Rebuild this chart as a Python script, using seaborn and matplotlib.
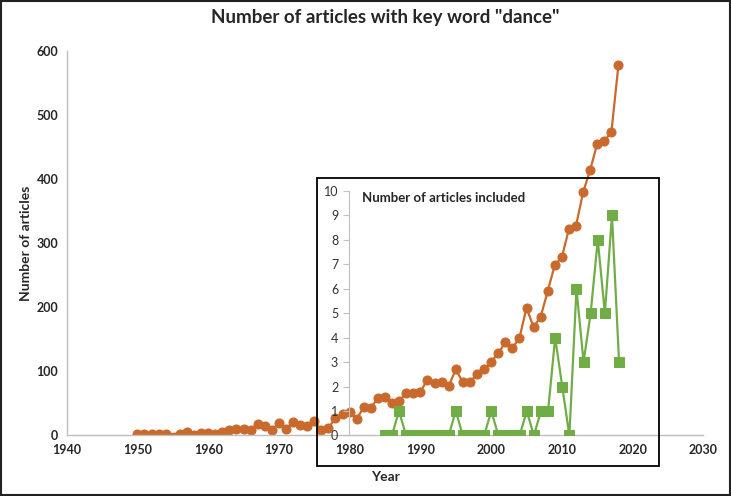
import numpy as np
import pandas as pd
import matplotlib
matplotlib.use('Agg')
import matplotlib.pyplot as plt
import seaborn as sns
from matplotlib.patches import Rectangle

# all articles with key word "dance" (1955 missing in source)
years_all = [1950, 1951, 1952, 1953, 1954, 1956, 1957, 1958, 1959, 1960,
             1961, 1962, 1963, 1964, 1965, 1966, 1967, 1968, 1969, 1970,
             1971, 1972, 1973, 1974, 1975, 1976, 1977, 1978, 1979, 1980,
             1981, 1982, 1983, 1984, 1985, 1986, 1987, 1988, 1989, 1990,
             1991, 1992, 1993, 1994, 1995, 1996, 1997, 1998, 1999, 2000,
             2001, 2002, 2003, 2004, 2005, 2006, 2007, 2008, 2009, 2010,
             2011, 2012, 2013, 2014, 2015, 2016, 2017, 2018]
articles_all = [3, 2, 3, 3, 2, 3, 5, 1, 4, 4,
                3, 6, 9, 10, 10, 8, 18, 15, 8, 20,
                10, 21, 17, 15, 22, 9, 12, 27, 34, 36,
                26, 44, 43, 59, 60, 50, 53, 67, 66, 68,
                87, 82, 83, 77, 103, 83, 83, 96, 103, 115,
                128, 145, 136, 152, 199, 169, 185, 225, 266, 278,
                322, 327, 379, 414, 455, 459, 473, 578]

# articles included
years_incl = list(range(1985, 2019))
articles_incl = [0, 0, 1, 0, 0, 0, 0, 0, 0, 0,
                 1, 0, 0, 0, 0, 1, 0, 0, 0, 0,
                 1, 0, 1, 1, 4, 2, 0, 6, 3, 5,
                 8, 5, 9, 3]

main_xticks = [1940, 1950, 1960, 1970, 1980, 1990, 2000, 2010, 2020, 2030]
main_yticks = [0, 100, 200, 300, 400, 500, 600]
inset_yticks = list(range(0, 11))

ORANGE = '#C9692C'
GREEN = '#70AD47'
GREY = '#BFBFBF'

sns.set_style('white')
plt.rcParams['font.family'] = ['Lato', 'DejaVu Sans']

df_all = pd.DataFrame({'year': years_all, 'articles': articles_all})
df_incl = pd.DataFrame({'year': years_incl, 'articles': articles_incl})

fig = plt.figure(figsize=(7.31, 4.96), dpi=100)
ax = fig.add_axes([0.0912, 0.122, 0.871, 0.776])

sns.lineplot(data=df_all, x='year', y='articles', ax=ax, color=ORANGE,
             marker='o', markersize=6.5, markeredgecolor=ORANGE, linewidth=1.6)
ax.set_xlim(1940, 2030)
ax.set_ylim(0, 600)
ax.set_xticks(main_xticks, labels=[str(t) for t in main_xticks], fontweight='bold')
ax.set_yticks(main_yticks, labels=[str(t) for t in main_yticks], fontweight='bold')
ax.tick_params(length=0, labelsize=9, pad=6)
ax.set_xlabel('Year', fontsize=10, fontweight='bold', labelpad=11)
ax.set_ylabel('Number of articles', fontsize=10, fontweight='bold', labelpad=3)
ax.set_title('Number of articles with key word "dance"', fontsize=13.5,
             fontweight='bold', pad=20)
for s in ['top', 'right']:
    ax.spines[s].set_visible(False)
for s in ['left', 'bottom']:
    ax.spines[s].set_color(GREY)
    ax.spines[s].set_linewidth(1)

# inset for included articles (transparent, shares x positions with main axis)
ax_in = fig.add_axes([0.4778, 0.122, 0.3885, 0.493])
ax_in.patch.set_alpha(0)
sns.lineplot(data=df_incl, x='year', y='articles', ax=ax_in, color=GREEN,
             marker='s', markersize=6.5, markeredgecolor=GREEN, linewidth=1.6)
ax_in.set_xlim(1980, 2020)
ax_in.set_ylim(0, 10)
ax_in.set_yticks(inset_yticks)
ax_in.set_xticks([])
ax_in.tick_params(axis='y', length=4, color=GREY, labelsize=9, pad=4, left=True,
                  labelcolor='#333333')
ax_in.set_xlabel('')
ax_in.set_ylabel('')
for s in ['top', 'right', 'bottom']:
    ax_in.spines[s].set_visible(False)
ax_in.spines['left'].set_color(GREY)
ax_in.text(0.046, 0.97, 'Number of articles included', transform=ax_in.transAxes,
           fontsize=9.5, fontweight='bold', va='center', ha='left')

# frame around inset and around figure
fig.add_artist(Rectangle((0.4337, 0.0605), 0.468, 0.581, transform=fig.transFigure,
                         fill=False, edgecolor='black', linewidth=1.3))
fig.add_artist(Rectangle((0.001, 0.002), 0.997, 0.996, transform=fig.transFigure,
                         fill=False, edgecolor='#222222', linewidth=1.5))

fig.savefig('out.png', dpi=100)
